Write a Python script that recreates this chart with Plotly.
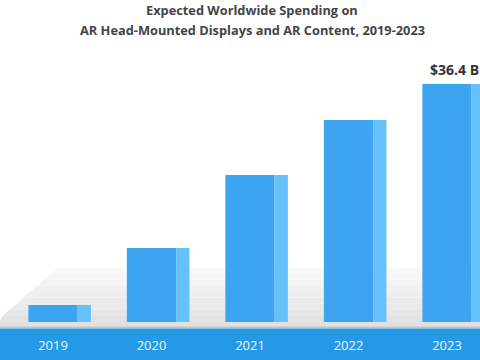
import plotly.graph_objects as go

# ---- data ----
years = ["2019", "2020", "2021", "2022", "2023"]
spending = [2.6, 11.3, 22.5, 30.9, 36.4]  # US$ billions (estimated)
value_label = "$36.4 B"
title_line1 = "Expected Worldwide Spending on"
title_line2 = "AR Head-Mounted Displays and AR Content, 2019-2023"

W, H = 480, 360
B = 32
PH = H - B  # plot area height in px

xpos = list(range(len(years)))
front_w = 0.5
side_w = 0.135

fig = go.Figure()
# front faces
fig.add_trace(go.Bar(
    x=xpos, y=spending, width=front_w, offset=-front_w / 2,
    marker=dict(color="#3da5ef", line=dict(width=0)),
    hoverinfo="skip", showlegend=False,
))
# side faces
fig.add_trace(go.Bar(
    x=xpos, y=spending, width=side_w, offset=front_w / 2,
    marker=dict(color="#66c1fb", line=dict(width=0)),
    hoverinfo="skip", showlegend=False,
))

def px_x(px):
    return px / W

def px_y(py):
    return (PH - py) / PH

shapes = []
# floor gradient (decoration)
top_y, bot_y = 268, 327
left_top_x, left_bot_y = 58, 318
n = 10

def lx(y):
    if y >= left_bot_y:
        return 0
    return left_top_x * (left_bot_y - y) / (left_bot_y - top_y)

for i in range(n):
    y0 = top_y + (bot_y - top_y) * i / n
    y1 = top_y + (bot_y - top_y) * (i + 1) / n
    g = int(250 - (250 - 224) * (i + 0.5) / n)
    col = f"rgb({g},{g},{g})"
    path = (f"M {px_x(lx(y0))} {px_y(y0)} L {px_x(W)} {px_y(y0)} "
            f"L {px_x(W)} {px_y(y1)} L {px_x(lx(y1))} {px_y(y1)} Z")
    shapes.append(dict(type="path", path=path, xref="paper", yref="paper",
                       fillcolor=col, line=dict(width=0), layer="below"))
# thin gray line above band
shapes.append(dict(type="rect", xref="paper", yref="paper",
                   x0=0, x1=1, y0=px_y(328.5), y1=px_y(326.5),
                   fillcolor="#c4c4c4", line=dict(width=0), layer="below"))
# blue band
shapes.append(dict(type="rect", xref="paper", yref="paper",
                   x0=0, x1=1, y0=px_y(H), y1=px_y(328.5),
                   fillcolor="#2499e6", line=dict(width=0), layer="below"))

# y scale: baseline at px 322, top of 36.4 at px 84
ppu = (322 - 84) / 36.4
yr = [-(PH - 322) / ppu, 322 / ppu]
x0 = -53 / 98.5
xr = [x0, x0 + W / 98.5]

annotations = [
    dict(text=f"<b>{title_line1}</b>", xref="paper", yref="paper",
         x=252 / W, y=px_y(10), xanchor="center", yanchor="middle",
         showarrow=False, font=dict(family="Open Sans", size=12.8, color="#444444")),
    dict(text=f"<b>{title_line2}</b>", xref="paper", yref="paper",
         x=252 / W, y=px_y(30), xanchor="center", yanchor="middle",
         showarrow=False, font=dict(family="Open Sans", size=12.8, color="#444444")),
    dict(text=f"<b>{value_label}</b>", x=xpos[-1], y=spending[-1],
         xref="x", yref="y", xanchor="left", yanchor="bottom",
         xshift=-19, yshift=3, showarrow=False,
         font=dict(family="Open Sans", size=14, color="#333333")),
]

fig.update_layout(
    width=W, height=H,
    margin=dict(l=0, r=0, t=0, b=B),
    paper_bgcolor="white", plot_bgcolor="rgba(0,0,0,0)",
    barmode="overlay",
    shapes=shapes, annotations=annotations,
    xaxis=dict(range=xr, tickvals=xpos, ticktext=years, showgrid=False,
               zeroline=False, showline=False, ticks="",
               tickfont=dict(family="Open Sans", size=13, color="#eef7ff"),
               ticklabelstandoff=8, fixedrange=True),
    yaxis=dict(range=yr, visible=False, showgrid=False, zeroline=False,
               fixedrange=True),
)

fig.write_html("out.html",
               config={"displayModeBar": False, "staticPlot": True},
               post_script="document.body.style.margin='0px';document.body.style.overflow='hidden';")
